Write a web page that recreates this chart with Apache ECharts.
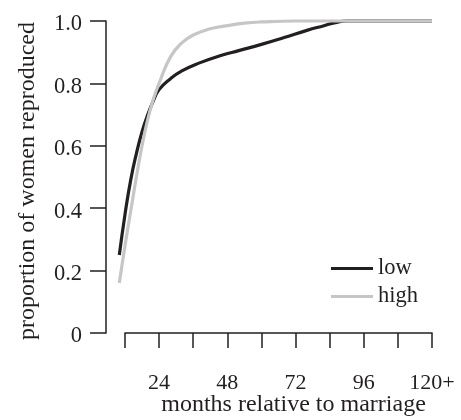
<!DOCTYPE html>
<html><head><meta charset="utf-8">
<script src="https://cdn.jsdelivr.net/npm/echarts@6/dist/echarts.min.js"></script>
<style>html,body{margin:0;padding:0;background:#fff}#c{width:461px;height:420px}</style>
</head><body><div id="c"></div>
<script>
const lowMonths = [10, 12, 14, 16, 18, 20, 22, 24, 28, 32, 38, 46, 52, 60, 68, 76, 82, 86, 90, 100, 120];
const lowValues = [0.25, 0.38, 0.49, 0.575, 0.645, 0.70, 0.745, 0.78, 0.815, 0.84, 0.865, 0.89, 0.905, 0.925, 0.947, 0.97, 0.985, 0.995, 1.0, 1.0, 1.0];
const highMonths = [10, 12, 14, 16, 18, 20, 22, 24, 28, 32, 36, 42, 48, 54, 60, 72, 90, 120];
const highValues = [0.16, 0.28, 0.39, 0.50, 0.60, 0.685, 0.75, 0.80, 0.885, 0.93, 0.955, 0.975, 0.985, 0.993, 0.997, 1.0, 1.0, 1.0];
const xTickLabels = {24: '24', 48: '48', 72: '72', 96: '96', 120: '120+'};
const seriesNames = ['low', 'high'];
const colors = ['#231f20', '#c6c6c6'];

const font = 'Liberation Serif';
const textColor = '#231f20';
// plot area: month 12 at x=125, month 120 at x=432 (12 months = 34.083 px)
const monthPx = (432 - 125) / 108;
const chart = echarts.init(document.getElementById('c'), null, {renderer: 'canvas'});
chart.setOption({
  animation: false,
  backgroundColor: '#fff',
  grid: [
    {left: 125 - 12 * monthPx, right: 29, top: 21, bottom: 87, containLabel: false, outerBoundsMode: 'none'},
    {left: 125, right: 29, top: 21, bottom: 87, containLabel: false, outerBoundsMode: 'none'}
  ],
  legend: {
    orient: 'vertical', left: 326, top: 252,
    itemWidth: 42, itemHeight: 3, itemGap: 5, icon: 'rect',
    textStyle: {fontFamily: font, fontSize: 22.5, color: textColor, lineHeight: 22},
    data: seriesNames
  },
  xAxis: [
    {gridIndex: 0, type: 'value', min: 0, max: 120, show: false},
    {
      gridIndex: 1, type: 'value', min: 12, max: 120, interval: 12, offset: 15,
      name: 'months relative to marriage', nameLocation: 'middle', nameGap: 45, nameMoveOverlap: false,
      nameTextStyle: {fontFamily: font, fontSize: 24, color: textColor, padding: [0,0,0,30]},
      axisLine: {show: true, lineStyle: {color: textColor, width: 1.5}},
      axisTick: {show: true, length: 15, lineStyle: {color: textColor, width: 1.5}},
      splitLine: {show: false},
      axisLabel: {fontFamily: font, fontSize: 22, color: textColor, margin: 24,
        formatter: v => xTickLabels[v] || ''}
    }
  ],
  yAxis: [
    {gridIndex: 0, type: 'value', min: 0, max: 1, show: false},
    {
      gridIndex: 1, type: 'value', min: 0, max: 1, interval: 0.2, offset: 19,
      name: 'proportion of women reproduced', nameLocation: 'middle', nameGap: 66, nameMoveOverlap: false,
      nameTextStyle: {fontFamily: font, fontSize: 24, color: textColor, padding: [0, 8, 0, 0]},
      axisLine: {show: true, lineStyle: {color: textColor, width: 1.5}},
      axisTick: {show: true, length: 16, lineStyle: {color: textColor, width: 1.5}},
      splitLine: {show: false},
      axisLabel: {color: textColor, margin: 24,
        formatter: v => '{v|' + (v === 0 ? '0' : v.toFixed(1)) + '}',
        rich: {v: {fontFamily: font, fontSize: 22.5, color: textColor, padding: [7, 0, 0, 0]}}}
    }
  ],
  series: [
    {name: seriesNames[0], type: 'line', xAxisIndex: 0, yAxisIndex: 0, smooth: true, showSymbol: false, clip: false,
      color: colors[0], lineStyle: {width: 3.2, color: colors[0]},
      data: lowMonths.map((m, i) => [m, lowValues[i]])},
    {name: seriesNames[1], type: 'line', xAxisIndex: 0, yAxisIndex: 0, smooth: true, showSymbol: false, clip: false,
      color: colors[1], lineStyle: {width: 3.2, color: colors[1]},
      data: highMonths.map((m, i) => [m, highValues[i]])}
  ]
});
</script></body></html>
